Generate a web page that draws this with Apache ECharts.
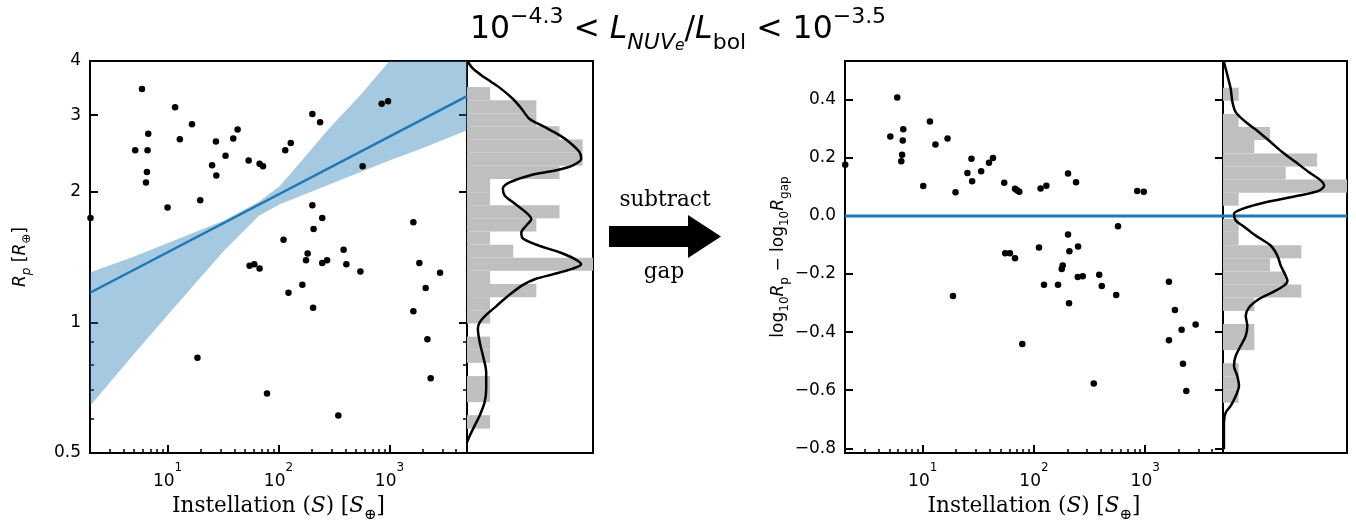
<!DOCTYPE html>
<html><head><meta charset="utf-8">
<script src="https://cdn.jsdelivr.net/npm/echarts@6/dist/echarts.min.js"></script>
<style>html,body{margin:0;padding:0;background:#fff}#c{width:1356px;height:522px}</style>
</head><body><div id="c"></div>
<script>
// ---------------- data ----------------
const xMajorTicks = [10, 100, 1000];
const xMinorTicks = [3,4,5,6,7,8,9,20,30,40,50,60,70,80,90,200,300,400,500,600,700,800,900,2000,3000,4000];
const leftYMajorTicks = [0.5, 1, 2, 3, 4];
const leftYMinorTicks = [0.6, 0.7, 0.8, 0.9];
const rightYTicks = [-0.8, -0.6, -0.4, -0.2, 0, 0.2, 0.4];

// left panel: instellation and planet radius
const leftS = [5.88,11.7,16.6,6.70,12.9,5.11,6.60,27.3,42.8,39.1,33.3,6.52,6.39,25.2,27.5,53.8,67.5,72.5,19.7,10.0,2.02,
  202,237,129,115,851,971,573,202,248,207,111,386,183,1643,54.9,60.5,67.5,18.6,78.8,
  177,248,274,409,547,164,123,205,1860,2859,2120,1643,2198,2352,346];
const leftR = [3.45,3.13,2.86,2.72,2.64,2.49,2.49,2.61,2.78,2.65,2.42,2.22,2.10,2.30,2.18,2.36,2.32,2.29,1.91,1.84,1.74,
  3.02,2.89,2.59,2.49,3.19,3.23,2.29,1.86,1.74,1.64,1.55,1.47,1.44,1.70,1.35,1.36,1.33,0.829,0.686,
  1.39,1.37,1.39,1.36,1.31,1.22,1.17,1.08,1.37,1.30,1.20,1.06,0.914,0.743,0.610];

// fitted gap line and its band
const fitS = [2, 5000];
const fitR = [1.17, 3.32];
const bandS = [2, 5, 12.75, 32.4, 67.1, 101.7, 154, 287, 535, 998, 1860, 5000];
const bandUpper = [1.302, 1.418, 1.560, 1.717, 1.898, 2.056, 2.323, 2.798, 3.316, 3.994, 4.78, 6.31];
const bandLower = [0.642, 0.847, 1.116, 1.464, 1.762, 1.869, 1.950, 2.078, 2.214, 2.360, 2.502, 2.769];

// left marginal histogram (radius bins, counts)
const leftHistEdges = [3.483,3.250,3.031,2.828,2.636,2.459,2.294,2.140,1.995,1.861,1.736,1.619,1.510,1.409,1.314,1.225,1.143,1.066,0.994,0.927,0.865,0.807,0.752,0.702,0.655,0.611,0.569];
const leftHistCounts = [1,3,3,4,5,5,4,1,1,4,3,1,2,6,1,3,1,1,0,1,1,0,1,1,0,1];
const leftKdeR = [3.98,3.84,3.71,3.58,3.45,3.27,3.11,2.94,2.82,2.70,2.60,2.47,2.38,2.30,2.24,2.18,2.10,2.03,1.96,1.89,1.79,1.73,1.67,1.61,1.56,1.50,1.45,1.40,1.36,1.33,1.29,1.26,1.22,1.15,1.09,1.04,1.00,0.966,0.900,0.838,0.767,0.702,0.654,0.610,0.578,0.548,0.529];
const leftKdeD = [0.04,0.26,0.62,1.05,1.48,1.99,2.35,2.71,3.35,4.0,4.43,4.86,4.94,4.58,3.86,2.71,1.84,1.55,1.63,1.99,2.56,2.78,2.56,2.35,2.42,3.14,4.0,4.65,4.94,4.58,3.71,2.99,2.42,1.77,1.27,0.83,0.55,0.47,0.55,0.69,0.83,0.83,0.76,0.55,0.33,0.12,0];

// right panel: instellation and log10 Rp - log10 Rgap
const rightS = [5.90,11.6,5.11,6.68,6.61,6.52,6.41,13.0,16.7,10.1,19.7,27.4,25.2,27.8,33.5,39.4,42.8,54.0,67.5,70.3,73.8,2.01,
  114.6,129.1,202.3,238.8,847,970,
  55.1,60.8,67.5,110.9,569,202.3,248.9,208,181.1,177.4,247.2,274.2,385.5,18.7,78.5,123.0,164.4,206.5,406.4,548,344.4,
  1633,1849,2123,2838,1633,2183,2339];
const rightV = [0.407,0.325,0.273,0.298,0.259,0.210,0.188,0.246,0.266,0.103,0.081,0.197,0.148,0.119,0.154,0.183,0.199,0.114,0.093,0.088,0.083,0.176,
  0.094,0.104,0.146,0.116,0.086,0.083,
  -0.129,-0.129,-0.146,-0.109,-0.036,-0.064,-0.105,-0.122,-0.171,-0.183,-0.210,-0.208,-0.203,-0.276,-0.441,-0.237,-0.237,-0.301,-0.241,-0.272,-0.577,
  -0.227,-0.324,-0.392,-0.374,-0.428,-0.509,-0.603];
const zeroLevel = 0;

// right marginal histogram
const rightHistEdges = [0.441,0.396,0.351,0.306,0.261,0.215,0.170,0.125,0.080,0.035,-0.010,-0.055,-0.101,-0.146,-0.191,-0.236,-0.281,-0.327,-0.372,-0.417,-0.462,-0.507,-0.552,-0.598,-0.643];
const rightHistCounts = [1,0,1,3,2,6,4,12,1,0,1,1,5,3,4,5,2,0,2,2,0,1,1,1];
const rightKdeV = [0.530,0.484,0.438,0.392,0.357,0.323,0.288,0.254,0.219,0.185,0.150,0.122,0.104,0.087,0.070,0.047,0.024,0.007,-0.016,-0.033,-0.068,-0.102,-0.137,-0.171,-0.206,-0.223,-0.240,-0.263,-0.286,-0.315,-0.344,-0.378,-0.413,-0.447,-0.482,-0.516,-0.551,-0.585,-0.620,-0.654,-0.677,-0.712,-0.758,-0.803];
const rightKdeD = [0.06,0.28,0.49,0.60,0.81,1.45,2.30,3.04,3.79,4.64,5.49,6.23,6.45,6.13,4.85,2.72,1.23,0.70,0.81,1.23,2.09,3.04,3.47,3.68,4.0,4.11,3.89,3.15,2.30,1.66,1.45,1.55,1.45,1.13,0.81,0.70,0.91,1.02,0.81,0.49,0.17,0.06,0.06,0.06];

// ---------------- styling ----------------
const BLUE = '#1f77b4';
const SANS = 'DejaVu Sans';
const SERIF = 'DejaVu Serif';
const S_RANGE = [2, 5000];
const LEFT_Y_RANGE = [0.5, 4];
const RIGHT_Y_RANGE = [-0.816, 0.533];
const LEFT_HIST_MAX = 5.45;
const RIGHT_HIST_MAX = 7.91;

const zip = (a, b) => a.map((v, i) => [v, b[i]]);
const hidden = {axisLine:{show:false, onZero:false}, axisTick:{show:false}, axisLabel:{show:false}, splitLine:{show:false}};
const noLine = {show:false, onZero:false};
const tick = (vals, len, w) => ({show:true, inside:true, length:len, customValues:vals, lineStyle:{color:'#000', width:w}});
const noLabel = {show:false};

const xPow = v => '{b|10}{s|' + Math.round(Math.log10(v)) + '}';
const xLabel = {show:true, customValues:xMajorTicks, formatter:xPow, margin:9,
  rich:{b:{fontFamily:SANS, fontSize:17, fontWeight:'normal', color:'#000', verticalAlign:'bottom', lineHeight:28},
        s:{fontFamily:SANS, fontSize:12, fontWeight:'normal', color:'#000', verticalAlign:'top', lineHeight:20}}};
const xName = '{t|Instellation (}{i|S}{t|) [}{i|S}{sb|⊕}{t|]}';
const xNameStyle = {rich:{t:{fontFamily:SERIF, fontSize:21.5, color:'#000', verticalAlign:'top', lineHeight:28},
  i:{fontFamily:SERIF, fontStyle:'italic', fontSize:21.5, color:'#000', verticalAlign:'top', lineHeight:28},
  sb:{fontFamily:SERIF, fontSize:15, color:'#000', verticalAlign:'bottom', lineHeight:28}}};

function histItems(edges, counts) {
  return counts.map((c, i) => [c, edges[i + 1], edges[i]]);
}
function histRender(params, api) {
  const c = api.value(0);
  if (!c) return;
  const p0 = api.coord([0, api.value(1)]);
  const p1 = api.coord([c, api.value(2)]);
  const cs = params.coordSys;
  const rect = echarts.graphic.clipRectByRect(
    {x:p0[0], y:p1[1], width:p1[0] - p0[0], height:p0[1] - p1[1]},
    {x:cs.x, y:cs.y, width:cs.width, height:cs.height});
  if (!rect) return;
  return {type:'rect', shape:rect, style:{fill:'#bfbfbf'}};
}

const chart = echarts.init(document.getElementById('c'), null, {renderer:'canvas'});
const gridBase = {show:true, borderColor:'#000', borderWidth:2, backgroundColor:'transparent', containLabel:false, outerBoundsMode:'none'};
const tn = {fontFamily:SANS, fontWeight:'normal', color:'#000'};

chart.setOption({
  animation:false,
  backgroundColor:'#fff',
  title:{
    text:'{n|10}{sp|−4.3}{n| < }{it|L}{sbi|NUV}{ssb|e}{n|/}{it|L}{sb|bol}{n| < 10}{sp|−3.5}',
    left:'center', top:1,
    textStyle:{fontWeight:'normal', rich:{
      n:Object.assign({fontSize:31.5, lineHeight:48, verticalAlign:'middle'}, tn),
      sp:Object.assign({fontSize:22, lineHeight:32, verticalAlign:'top'}, tn),
      it:Object.assign({fontStyle:'italic', fontSize:31.5, lineHeight:48, verticalAlign:'middle'}, tn),
      sbi:Object.assign({fontStyle:'italic', fontSize:22, lineHeight:33, verticalAlign:'bottom'}, tn),
      ssb:Object.assign({fontStyle:'italic', fontSize:15.5, lineHeight:23, verticalAlign:'bottom'}, tn),
      sb:Object.assign({fontSize:22, lineHeight:33, verticalAlign:'bottom'}, tn)
    }}
  },
  grid:[
    Object.assign({left:90, top:61, width:377, height:392}, gridBase),
    Object.assign({left:467, top:61, width:126, height:392}, gridBase),
    Object.assign({left:845, top:61, width:378, height:392}, gridBase),
    Object.assign({left:1223, top:61, width:124, height:392}, gridBase)
  ],
  xAxis:[
    {gridIndex:0, type:'log', min:S_RANGE[0], max:S_RANGE[1], position:'bottom', axisLine:noLine, splitLine:{show:false},
      axisTick:tick(xMajorTicks, 8, 2), axisLabel:xLabel,
      name:xName, nameLocation:'middle', nameGap:42, nameTextStyle:xNameStyle},
    {gridIndex:0, type:'log', min:S_RANGE[0], max:S_RANGE[1], position:'bottom', axisLine:noLine, splitLine:{show:false},
      axisTick:tick(xMinorTicks, 4, 1.5), axisLabel:noLabel},
    Object.assign({gridIndex:1, type:'value', min:0, max:LEFT_HIST_MAX}, hidden),
    {gridIndex:2, type:'log', min:S_RANGE[0], max:S_RANGE[1], position:'bottom', axisLine:noLine, splitLine:{show:false},
      axisTick:tick(xMajorTicks, 8, 2), axisLabel:xLabel,
      name:xName, nameLocation:'middle', nameGap:42, nameTextStyle:xNameStyle},
    {gridIndex:2, type:'log', min:S_RANGE[0], max:S_RANGE[1], position:'bottom', axisLine:noLine, splitLine:{show:false},
      axisTick:tick(xMinorTicks, 4, 1.5), axisLabel:noLabel},
    Object.assign({gridIndex:3, type:'value', min:0, max:RIGHT_HIST_MAX}, hidden)
  ],
  yAxis:[
    {gridIndex:0, type:'log', min:LEFT_Y_RANGE[0], max:LEFT_Y_RANGE[1], position:'left', axisLine:noLine, splitLine:{show:false},
      axisTick:tick(leftYMajorTicks, 8, 2),
      axisLabel:{show:true, customValues:leftYMajorTicks, margin:9, fontFamily:SANS, fontSize:17, color:'#000',
        formatter:v => String(Math.round(v * 10) / 10)},
      name:'{i|R}{sb|p}{t| [}{i|R}{sb|⊕}{t|]}', nameLocation:'middle', nameGap:57, nameRotate:90,
      nameTextStyle:{rich:{
        i:{fontFamily:SANS, fontStyle:'italic', fontSize:17, color:'#000', lineHeight:24, verticalAlign:'middle'},
        t:{fontFamily:SANS, fontSize:17, color:'#000', lineHeight:24, verticalAlign:'middle'},
        sb:{fontFamily:SANS, fontStyle:'italic', fontSize:12, color:'#000', lineHeight:18, verticalAlign:'bottom'}}}},
    {gridIndex:0, type:'log', min:LEFT_Y_RANGE[0], max:LEFT_Y_RANGE[1], position:'left', axisLine:noLine, splitLine:{show:false},
      axisTick:tick(leftYMinorTicks, 4, 1.5), axisLabel:noLabel},
    {gridIndex:0, type:'log', min:LEFT_Y_RANGE[0], max:LEFT_Y_RANGE[1], position:'right', axisLine:noLine, splitLine:{show:false},
      axisTick:tick(leftYMajorTicks, 8, 2), axisLabel:noLabel},
    {gridIndex:0, type:'log', min:LEFT_Y_RANGE[0], max:LEFT_Y_RANGE[1], position:'right', axisLine:noLine, splitLine:{show:false},
      axisTick:tick(leftYMinorTicks, 4, 1.5), axisLabel:noLabel},
    Object.assign({gridIndex:1, type:'log', min:LEFT_Y_RANGE[0], max:LEFT_Y_RANGE[1]}, hidden),
    {gridIndex:2, type:'value', min:RIGHT_Y_RANGE[0], max:RIGHT_Y_RANGE[1], position:'left', axisLine:noLine, splitLine:{show:false},
      axisTick:tick(rightYTicks, 8, 2),
      axisLabel:{show:true, customValues:rightYTicks, margin:9, fontFamily:SANS, fontSize:17, color:'#000',
        formatter:v => (Math.abs(v) < 1e-9 ? 0 : v).toFixed(1).replace('-', '−')},
      name:'{t|log}{sb|10}{i|R}{sb|p}{t| − log}{sb|10}{i|R}{sb|gap}', nameLocation:'middle', nameGap:33, nameRotate:90,
      nameTextStyle:{rich:{
        i:{fontFamily:SANS, fontStyle:'italic', fontSize:17, color:'#000', lineHeight:24, verticalAlign:'middle'},
        t:{fontFamily:SANS, fontSize:17, color:'#000', lineHeight:24, verticalAlign:'middle'},
        sb:{fontFamily:SANS, fontSize:12, color:'#000', lineHeight:18, verticalAlign:'bottom'}}}},
    {gridIndex:2, type:'value', min:RIGHT_Y_RANGE[0], max:RIGHT_Y_RANGE[1], position:'right', axisLine:noLine, splitLine:{show:false},
      axisTick:tick(rightYTicks, 8, 2), axisLabel:noLabel},
    Object.assign({gridIndex:3, type:'value', min:RIGHT_Y_RANGE[0], max:RIGHT_Y_RANGE[1]}, hidden)
  ],
  graphic:[
    {type:'text', x:665, y:200, style:{text:'subtract', font:'21.5px "DejaVu Serif"', fill:'#000', align:'center', verticalAlign:'middle'}},
    {type:'polygon', shape:{points:[[609,226],[688,226],[688,215],[721,236.5],[688,258],[688,247],[609,247]]}, style:{fill:'#000'}},
    {type:'text', x:664, y:272, style:{text:'gap', font:'21.5px "DejaVu Serif"', fill:'#000', align:'center', verticalAlign:'middle'}}
  ],
  series:[
    {type:'custom', name:'band', xAxisIndex:0, yAxisIndex:0, clip:true, z:1,
      data:[[bandS[0], bandUpper[0]]], encode:{x:0, y:1},
      renderItem:(params, api) => {
        const pts = [];
        bandS.forEach((s, i) => pts.push(api.coord([s, bandUpper[i]])));
        for (let i = bandS.length - 1; i >= 0; i--) pts.push(api.coord([bandS[i], bandLower[i]]));
        return {type:'polygon', shape:{points:pts}, style:{fill:'rgba(31,119,180,0.4)'}};
      }},
    {type:'line', name:'fit', xAxisIndex:0, yAxisIndex:0, data:zip(fitS, fitR), showSymbol:false, z:2,
      lineStyle:{color:BLUE, width:2.5}},
    {type:'scatter', name:'left', xAxisIndex:0, yAxisIndex:0, data:zip(leftS, leftR), symbolSize:6.5, z:3,
      itemStyle:{color:'#000', opacity:1}},
    {type:'custom', name:'leftHist', xAxisIndex:2, yAxisIndex:4, data:histItems(leftHistEdges, leftHistCounts),
      encode:{x:0, y:[1, 2]}, renderItem:histRender, z:1},
    {type:'line', name:'leftKde', xAxisIndex:2, yAxisIndex:4, data:zip(leftKdeD, leftKdeR), showSymbol:false, smooth:0.3,
      lineStyle:{color:'#000', width:2.5}, z:3},
    {type:'line', name:'zero', xAxisIndex:3, yAxisIndex:5, data:[[S_RANGE[0], zeroLevel], [S_RANGE[1], zeroLevel]], showSymbol:false,
      lineStyle:{color:BLUE, width:3}, z:2},
    {type:'scatter', name:'right', xAxisIndex:3, yAxisIndex:5, data:zip(rightS, rightV), symbolSize:6.5, z:3,
      itemStyle:{color:'#000', opacity:1}},
    {type:'custom', name:'rightHist', xAxisIndex:5, yAxisIndex:7, data:histItems(rightHistEdges, rightHistCounts),
      encode:{x:0, y:[1, 2]}, renderItem:histRender, z:1},
    {type:'line', name:'zeroHist', xAxisIndex:5, yAxisIndex:7, data:[[0, zeroLevel], [RIGHT_HIST_MAX, zeroLevel]], showSymbol:false,
      lineStyle:{color:BLUE, width:3}, z:2},
    {type:'line', name:'rightKde', xAxisIndex:5, yAxisIndex:7, data:zip(rightKdeD, rightKdeV), showSymbol:false, smooth:0.3,
      lineStyle:{color:'#000', width:2.5}, z:3}
  ]
});
</script></body></html>
